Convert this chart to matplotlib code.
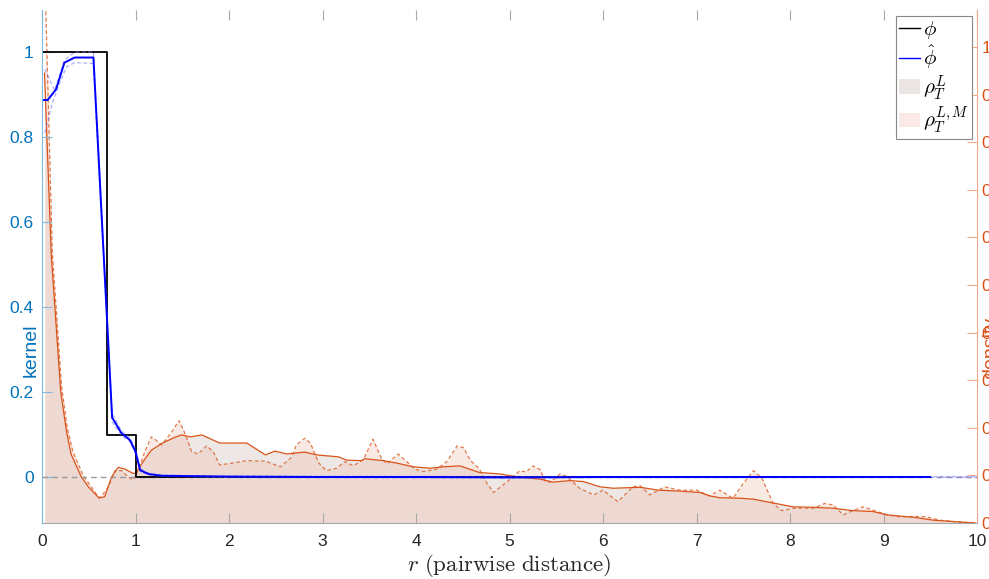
import numpy as np
import matplotlib.pyplot as plt
from matplotlib.lines import Line2D
from matplotlib.patches import Patch

plt.rcParams['font.family'] = ['Liberation Sans', 'DejaVu Sans']
plt.rcParams['mathtext.fontset'] = 'cm'

# true kernel phi (step)
r_phi = [0, 0, 0.7, 0.7, 1.0, 1.0, 9.5]
phi = [0, 1, 1, 0.1, 0.1, 0, 0]

# learned kernel phi_hat
r_hat = [0, 0.06, 0.15, 0.24, 0.35, 0.55, 0.75, 0.85, 0.94, 1.0,
         1.05, 1.14, 1.28, 2, 3, 4, 5, 6, 7, 8, 9, 9.5]
phi_hat = [0.887, 0.887, 0.912, 0.975, 0.987, 0.987, 0.14, 0.103, 0.087, 0.06,
           0.016, 0.007, 0.003, 0.001, 0, 0, -0.001, 0, 0, 0, 0, 0]

# dashed bands around phi_hat
r_band = [0.03, 0.135, 0.24, 0.35, 0.55, 0.75, 0.85, 0.94, 1.0, 1.05,
          1.14, 1.28, 2, 5, 8, 10]
band_hi = [0.959, 0.91, 0.981, 1.0, 1.0, 0.15, 0.108, 0.092, 0.066, 0.02,
           0.009, 0.004, 0.002, 0.001, 0.001, 0.001]
r_band_lo = [0.03, 0.12, 0.17, 0.26, 0.35, 0.55, 0.75, 0.85, 0.94, 1.0,
             1.05, 1.14, 1.28, 2, 5, 8, 10]
band_lo = [0.81, 0.887, 0.915, 0.965, 0.975, 0.973, 0.13, 0.098, 0.084, 0.055,
           0.012, 0.005, 0.002, -0.001, -0.002, -0.001, -0.001]

# density rho_T^L
r_L = [0.027, 0.1, 0.2, 0.26, 0.31, 0.42, 0.5, 0.61, 0.67, 0.745,
       0.816, 0.89, 0.976, 1.0, 1.1, 1.17, 1.28, 1.42, 1.49, 1.59,
       1.71, 1.9, 2.04, 2.19, 2.39, 2.49, 2.62, 2.81, 2.94, 3.17,
       3.26, 3.42, 3.45, 3.65, 3.79, 3.97, 4.15, 4.29, 4.47, 4.68,
       4.9, 5.08, 5.33, 5.47, 5.65, 5.79, 5.97, 6.11, 6.25, 6.4,
       6.59, 6.82, 7.04, 7.14, 7.25, 7.47, 7.61, 7.82, 8.03, 8.25,
       8.46, 8.67, 8.89, 9.04, 9.32, 9.53, 9.75, 9.98]
rho_L = [0.945, 0.56, 0.276, 0.195, 0.145, 0.097, 0.075, 0.0525, 0.055, 0.097,
         0.117, 0.113, 0.104, 0.105, 0.134, 0.153, 0.167, 0.18, 0.185, 0.181,
         0.185, 0.168, 0.168, 0.168, 0.143, 0.151, 0.145, 0.149, 0.143, 0.139,
         0.132, 0.131, 0.135, 0.131, 0.126, 0.118, 0.115, 0.118, 0.12, 0.106,
         0.103, 0.097, 0.092, 0.086, 0.089, 0.087, 0.076, 0.073, 0.074, 0.075,
         0.069, 0.067, 0.064, 0.057, 0.053, 0.052, 0.05, 0.042, 0.034, 0.033,
         0.031, 0.026, 0.024, 0.017, 0.012, 0.006, 0.003, 0.0]

# density rho_T^{L,M}
r_LM = [0.035, 0.11, 0.21, 0.27, 0.33, 0.44, 0.52, 0.61, 0.65, 0.71,
        0.78, 0.85, 0.92, 0.976, 1.03, 1.1, 1.17, 1.22, 1.28, 1.39,
        1.465, 1.53, 1.6, 1.67, 1.76, 1.83, 1.9, 2.04, 2.19, 2.39,
        2.55, 2.67, 2.72, 2.81, 2.87, 2.96, 3.04, 3.15, 3.24, 3.33,
        3.44, 3.54, 3.63, 3.69, 3.81, 3.9, 3.99, 4.08, 4.22, 4.33,
        4.44, 4.51, 4.58, 4.68, 4.76, 4.83, 4.93, 5.04, 5.11, 5.18,
        5.25, 5.33, 5.38, 5.44, 5.54, 5.61, 5.75, 5.9, 6.0, 6.16,
        6.32, 6.4, 6.5, 6.66, 6.82, 7.0, 7.14, 7.25, 7.39, 7.5,
        7.61, 7.7, 7.82, 7.91, 8.04, 8.25, 8.37, 8.46, 8.57, 8.67,
        8.78, 8.89, 9.04, 9.18, 9.32, 9.46, 9.6, 9.75, 9.98]
rho_LM = [1.12, 0.57, 0.285, 0.2, 0.15, 0.1, 0.078, 0.0525, 0.06, 0.076,
          0.11, 0.11, 0.097, 0.09, 0.111, 0.15, 0.181, 0.174, 0.164, 0.192,
          0.215, 0.188, 0.15, 0.145, 0.162, 0.15, 0.122, 0.126, 0.131, 0.13,
          0.118, 0.138, 0.164, 0.178, 0.168, 0.126, 0.11, 0.115, 0.129, 0.12,
          0.134, 0.176, 0.136, 0.124, 0.145, 0.129, 0.113, 0.108, 0.113, 0.129,
          0.162, 0.158, 0.132, 0.113, 0.083, 0.064, 0.08, 0.097, 0.11, 0.107,
          0.12, 0.112, 0.087, 0.086, 0.103, 0.098, 0.073, 0.059, 0.069, 0.045,
          0.076, 0.078, 0.059, 0.076, 0.069, 0.069, 0.057, 0.069, 0.052, 0.083,
          0.11, 0.094, 0.041, 0.026, 0.031, 0.031, 0.041, 0.038, 0.017, 0.026,
          0.034, 0.027, 0.017, 0.013, 0.014, 0.013, 0.006, 0.003, 0.0]

xticks = list(range(0, 11))
kernel_ticks = [0, 0.2, 0.4, 0.6, 0.8, 1]
kernel_ticklabels = ['0', '0.2', '0.4', '0.6', '0.8', '1']
density_ticks = [0, 0.1, 0.2, 0.3, 0.4, 0.5, 0.6, 0.7, 0.8, 0.9, 1]
density_ticklabels = ['0', '0.1', '0.2', '0.3', '0.4', '0.5', '0.6', '0.7', '0.8', '0.9', '1']

blue = '#0072BD'
orange = '#D95319'
fill_L = (198/255, 178/255, 172/255)
fill_LM = (238/255, 185/255, 165/255)

W, H = 989, 579
fig = plt.figure(figsize=(W/100, H/100), dpi=100)
ax = fig.add_axes([42/W, 1 - 523/H, (977-42)/W, (523-10)/H])   # density (drawn below)
ax2 = ax.twinx()                                                # kernel (drawn on top)
ax.yaxis.tick_right()
ax.yaxis.set_label_position('right')
ax2.yaxis.tick_left()
ax2.yaxis.set_label_position('left')

# densities
ax.fill_between(r_L, rho_L, 0, color=fill_L, alpha=0.3, lw=0)
ax.fill_between(r_LM, rho_LM, 0, color=fill_LM, alpha=0.3, lw=0)
ax.plot(r_L, rho_L, color=orange, lw=0.9)
ax.plot(r_LM, rho_LM, color=orange, lw=0.9, alpha=0.75, dashes=(3, 2))
ax.set_xlim(0, 10)
ax.set_ylim(0, (523-10)/476)

# kernels
ax2.axhline(0, color='#999999', lw=1, dashes=(4, 3))
ax2.plot(r_phi, phi, color='black', lw=1.3)
ax2.plot(r_band, band_hi, color='#7777ff', lw=0.9, alpha=0.6, dashes=(3, 2))
ax2.plot(r_band_lo, band_lo, color='#7777ff', lw=0.9, alpha=0.6, dashes=(3, 2))
ax2.plot(r_hat, phi_hat, color='#0000ff', lw=1.4)
ax2.set_ylim(-(523-477)/425, 1 + (52-10)/425)
ax2.set_xlim(0, 10)

# spines
for s in ['top', 'left']:
    ax.spines[s].set_visible(False)
for s in ['top', 'right', 'bottom']:
    ax2.spines[s].set_visible(False)
ax.spines['bottom'].set_color('#a8a8a8')
ax.spines['right'].set_color('#f0a88c')
ax2.spines['left'].set_color('#7fb8e0')
for sp in [ax.spines['bottom'], ax.spines['right'], ax2.spines['left']]:
    sp.set_linewidth(0.8)

ax.set_xticks(xticks)
ax.set_xticklabels([str(t) for t in xticks])
ax.tick_params(axis='x', direction='in', top=True, length=7, width=0.8,
               color='#a8a8a8', labelcolor='#262626', labelsize=12.5, pad=8)
ax.set_yticks(density_ticks)
ax.set_yticklabels(density_ticklabels)
ax.tick_params(axis='y', direction='in', length=7, width=0.8, color='#f0a88c',
               labelcolor=orange, labelsize=12.5, pad=3)
ax2.set_yticks(kernel_ticks)
ax2.set_yticklabels(kernel_ticklabels)
ax2.tick_params(axis='y', direction='in', length=7, width=0.8, color='#7fb8e0',
                labelcolor=blue, labelsize=12.5, pad=6)

ax.set_xlabel(r'$r\ \mathrm{(pairwise\ distance)}$', fontsize=16.5, color='#262626', labelpad=2)
fig.text(31/W, 1 - 350/H, 'kernel', rotation=90, color=blue, fontsize=14,
         ha='center', va='center')
fig.text(982/W, 1 - 348/H, 'density', rotation=90, color=orange, fontsize=14,
         ha='left', va='center')

handles = [Line2D([], [], color='black', lw=1),
           Line2D([], [], color='#0000ff', lw=1),
           Patch(facecolor='#ebe5e3', edgecolor='none'),
           Patch(facecolor='#fae9e4', edgecolor='none')]
labels = [r'$\phi$', r'$\hat{\phi}$', r'$\rho_T^L$', r'$\rho_T^{L,M}$']
leg = ax2.legend(handles, labels, loc='upper right', bbox_to_anchor=(972/W, 1 - 16/H),
                 bbox_transform=fig.transFigure, fontsize=15, frameon=True, fancybox=False,
                 edgecolor='#888888', framealpha=1, handlelength=1.0, handletextpad=0.15,
                 labelspacing=0.1, borderpad=0.15, borderaxespad=0)
leg.get_frame().set_linewidth(0.8)

fig.savefig('out.png', dpi=100)
